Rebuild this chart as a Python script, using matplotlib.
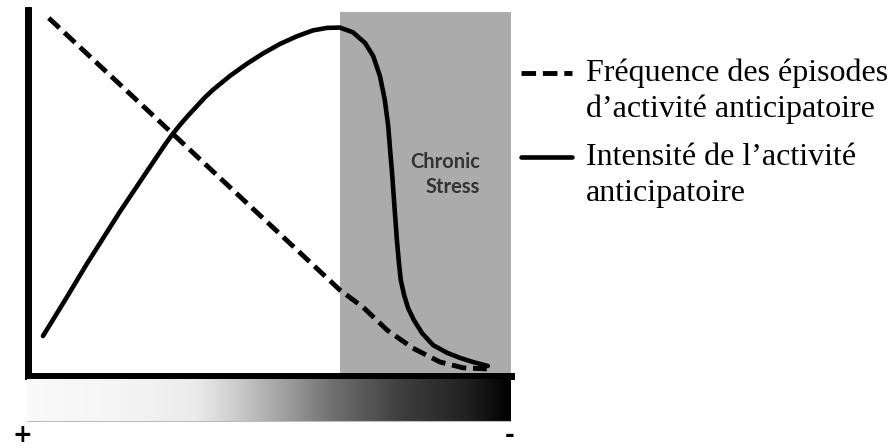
import numpy as np
import matplotlib
matplotlib.use("Agg")
import matplotlib.pyplot as plt
from matplotlib.colors import LinearSegmentedColormap
from matplotlib.legend_handler import HandlerLine2D

# curves (x, y on a 0-100 scale)
freq_x = [4.4, 29.9, 64.6, 69.4, 74.4, 79.7, 85.3, 90.1, 95.0]
freq_y = [97.8, 66.3, 23.4, 18.7, 12.4, 7.5, 3.7, 2.1, 1.8]

int_x = [3.2, 7.8, 12.3, 19.1, 26.0, 28.4, 29.8, 31.5, 33.2, 35.1, 36.7, 38.4,
         41.9, 45.4, 48.7, 52.2, 55.7, 59.0, 61.9, 64.6, 67.3, 69.8, 71.5, 72.9,
         73.9, 74.6, 75.0, 75.4, 75.9, 76.4, 76.8, 77.2, 77.9, 78.7, 79.9, 81.6,
         83.9, 86.8, 89.5, 92.1, 95.2]
int_y = [10.8, 20.7, 30.6, 44.8, 58.4, 63.1, 65.7, 68.5, 71.1, 73.8, 76.1, 78.2,
         82.0, 85.3, 88.1, 90.7, 92.8, 94.4, 95.1, 95.2, 93.9, 91.0, 87.4, 81.9,
         75.4, 68.3, 61.7, 55.4, 46.1, 37.1, 31.1, 26.1, 22.0, 18.5, 15.2, 11.6,
         8.3, 6.2, 4.8, 3.7, 2.6]

stress_start = 64.6
stress_end = 100
label_freq = "Fréquence des épisodes\nd’activité anticipatoire"
label_int = "Intensité de l’activité\nanticipatoire"

# gradient bar: position along the bar -> gray level
grad_pos = [0.0, 0.2, 0.35, 0.42, 0.53, 0.63, 0.77, 0.91, 1.0]
grad_val = [0.98, 0.96, 0.92, 0.82, 0.63, 0.44, 0.25, 0.13, 0.0]


class FirstLineHandler(HandlerLine2D):
    # put the legend sample next to the first line of a two-line label
    def __init__(self, shift, **kw):
        super().__init__(**kw)
        self.shift = shift

    def create_artists(self, legend, orig_handle, xdescent, ydescent, width, height,
                       fontsize, trans):
        return super().create_artists(legend, orig_handle, xdescent,
                                      ydescent - 2 * self.shift, width, height,
                                      fontsize, trans)


W, H = 893, 448
fig = plt.figure(figsize=(W / 100, H / 100), dpi=100)
ax = fig.add_axes([27.5 / W, (H - 375.5) / H, (511 - 27.5) / W, (375.5 - 10) / H])
ax.set_xlim(0, 100)
ax.set_ylim(0, 100)

ax.axvspan(stress_start, stress_end, ymax=0.995, color="#ababab", lw=0, zorder=0)
l1, = ax.plot(freq_x, freq_y, color="black", lw=3.5, ls=(0, (3, 1.4)),
              solid_capstyle="round", dash_capstyle="butt", label=label_freq)
l2, = ax.plot(int_x, int_y, color="black", lw=3.3, solid_capstyle="round",
              solid_joinstyle="round", label=label_int)

ax.text(93.6, 55.0, "Chronic\nStress", ha="right", va="center", multialignment="right",
        fontsize=14.5, fontfamily="Lato", fontweight="bold", color="#333333", linespacing=1.35)

for s in ["top", "right"]:
    ax.spines[s].set_visible(False)
for s in ["left", "bottom"]:
    ax.spines[s].set_linewidth(5)
    ax.spines[s].set_capstyle("projecting")
ax.set_xticks([])
ax.set_yticks([])
ax.patch.set_alpha(0)

# gradient bar under the axis
gax = fig.add_axes([27 / W, (H - 422) / H, (511 - 27) / W, (422 - 379) / H])
cmap = LinearSegmentedColormap.from_list("g", list(zip(grad_pos, [(v, v, v) for v in grad_val])))
gax.imshow(np.linspace(0, 1, 256)[None, :], aspect="auto", cmap=cmap, extent=[0, 1, 0, 1])
gax.set_axis_off()
gax.axhline(0, color="#bbbbbb", lw=1.5)

fig.text(22 / W, (H - 442) / H, "+", ha="center", va="baseline", fontsize=17, fontweight="bold")
fig.text(510 / W, (H - 442) / H, "-", ha="center", va="baseline", fontsize=17, fontweight="bold")

handler = FirstLineHandler(13)
leg = fig.legend(handles=[l1, l2], loc="upper left", bbox_to_anchor=(521 / W, (H - 58) / H),
                 frameon=False, prop={"family": "Liberation Serif", "size": 23},
                 handlelength=1.6, handletextpad=0.44, labelspacing=0.6, borderpad=0,
                 borderaxespad=0, handler_map={l1: handler, l2: handler})
for t in leg.get_texts():
    t.set_linespacing(1.3)

fig.savefig("out.png", dpi=100)
